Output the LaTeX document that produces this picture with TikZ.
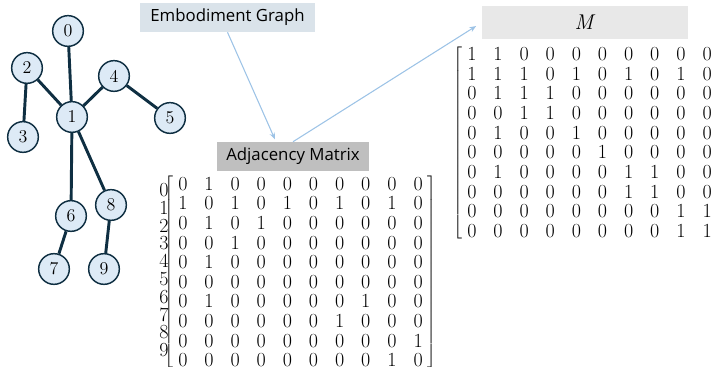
\documentclass[tikz,border=0pt]{standalone}
\usepackage{fontspec}
\setsansfont{Open Sans}
\usetikzlibrary{positioning, matrix, calc, arrows.meta}
\definecolor{grNode}{HTML}{DDEAF6}
\definecolor{grEdge}{HTML}{0F2F42}
\definecolor{boxEmb}{HTML}{DAE3EA}
\definecolor{boxAdj}{HTML}{BFBFBF}
\definecolor{boxM}{HTML}{E8E8E8}
\definecolor{flowArr}{HTML}{9DC3E6}

\begin{document}
\begin{tikzpicture}[x=0.75pt, y=0.75pt,
  joint/.style={circle, draw=grEdge, line width=1.1pt, fill=grNode, minimum size=23pt, inner sep=0pt, font=\fontsize{13.5}{13.5}\selectfont},
  link/.style={grEdge, line width=2.2pt},
  tag/.style={inner sep=0pt, align=center, font=\sffamily\fontsize{12.6}{13}\selectfont},
  arr/.style={-{Stealth[length=5pt, width=4pt]}, flowArr, line width=0.8pt},
  mat/.style={matrix of nodes, inner sep=0pt, column sep=8.6pt, row sep=0pt,
    nodes={minimum width=11pt, minimum height=14.6pt, inner sep=0pt, font=\fontsize{15}{15}\selectfont},
    left delimiter={[}, right delimiter={]}}
]
\useasboundingbox (0,0) rectangle (714,367);

% embodiment graph
\node[joint] (n0) at (68,336) {0};
\node[joint] (n1) at (72,250) {1};
\node[joint] (n2) at (27,299) {2};
\node[joint] (n3) at (23,230) {3};
\node[joint] (n4) at (114,291) {4};
\node[joint] (n5) at (170,249) {5};
\node[joint] (n6) at (71,151) {6};
\node[joint] (n7) at (54,98) {7};
\node[joint] (n8) at (111,162) {8};
\node[joint] (n9) at (104,98) {9};

\draw[link] (n0) -- (n1);
\draw[link] (n2) -- (n1);
\draw[link] (n2) -- (n3);
\draw[link] (n4) -- (n1);
\draw[link] (n4) -- (n5);
\draw[link] (n1) -- (n6);
\draw[link] (n1) -- (n8);
\draw[link] (n6) -- (n7);
\draw[link] (n8) -- (n9);

% labels
\node[tag, fill=boxEmb, minimum width=131.25pt, minimum height=21.75pt] (emb) at (227.5,349.5) {Embodiment Graph};
\node[tag, fill=boxAdj, minimum width=114pt, minimum height=21.75pt] (adjlbl) at (293,210.5) {Adjacency Matrix};
\node[tag, fill=boxM, minimum width=154.5pt, minimum height=24.75pt, font=\fontsize{16}{16}\selectfont] (mlbl) at (585,344.5) {\textit{M}};

% matrices
\matrix (adj) [mat] at (300.5,95) {
0 & 1 & 0 & 0 & 0 & 0 & 0 & 0 & 0 & 0 \\
1 & 0 & 1 & 0 & 1 & 0 & 1 & 0 & 1 & 0 \\
0 & 1 & 0 & 1 & 0 & 0 & 0 & 0 & 0 & 0 \\
0 & 0 & 1 & 0 & 0 & 0 & 0 & 0 & 0 & 0 \\
0 & 1 & 0 & 0 & 0 & 0 & 0 & 0 & 0 & 0 \\
0 & 0 & 0 & 0 & 0 & 0 & 0 & 0 & 0 & 0 \\
0 & 1 & 0 & 0 & 0 & 0 & 0 & 1 & 0 & 0 \\
0 & 0 & 0 & 0 & 0 & 0 & 1 & 0 & 0 & 0 \\
0 & 0 & 0 & 0 & 0 & 0 & 0 & 0 & 0 & 1 \\
0 & 0 & 0 & 0 & 0 & 0 & 0 & 0 & 1 & 0 \\
};
\matrix (rowlbl) [matrix of nodes, nodes={minimum height=13.35pt, inner sep=0pt, font=\fontsize{15}{15}\selectfont}] at (164,97) {
0 \\ 1 \\ 2 \\ 3 \\ 4 \\ 5 \\ 6 \\ 7 \\ 8 \\ 9 \\
};

\matrix (mmat) [mat] at (589.5,224.5) {
1 & 1 & 0 & 0 & 0 & 0 & 0 & 0 & 0 & 0 \\
1 & 1 & 1 & 0 & 1 & 0 & 1 & 0 & 1 & 0 \\
0 & 1 & 1 & 1 & 0 & 0 & 0 & 0 & 0 & 0 \\
0 & 0 & 1 & 1 & 0 & 0 & 0 & 0 & 0 & 0 \\
0 & 1 & 0 & 0 & 1 & 0 & 0 & 0 & 0 & 0 \\
0 & 0 & 0 & 0 & 0 & 1 & 0 & 0 & 0 & 0 \\
0 & 1 & 0 & 0 & 0 & 0 & 1 & 1 & 0 & 0 \\
0 & 0 & 0 & 0 & 0 & 0 & 1 & 1 & 0 & 0 \\
0 & 0 & 0 & 0 & 0 & 0 & 0 & 0 & 1 & 1 \\
0 & 0 & 0 & 0 & 0 & 0 & 0 & 0 & 1 & 1 \\
};

% flow arrows
\draw[arr, shorten >=2pt] (emb.south) -- ($(adjlbl.north)+(-17,0)$);
\draw[arr, shorten >=5pt] (adjlbl.north) -- (mlbl.west);
\end{tikzpicture}
\end{document}
